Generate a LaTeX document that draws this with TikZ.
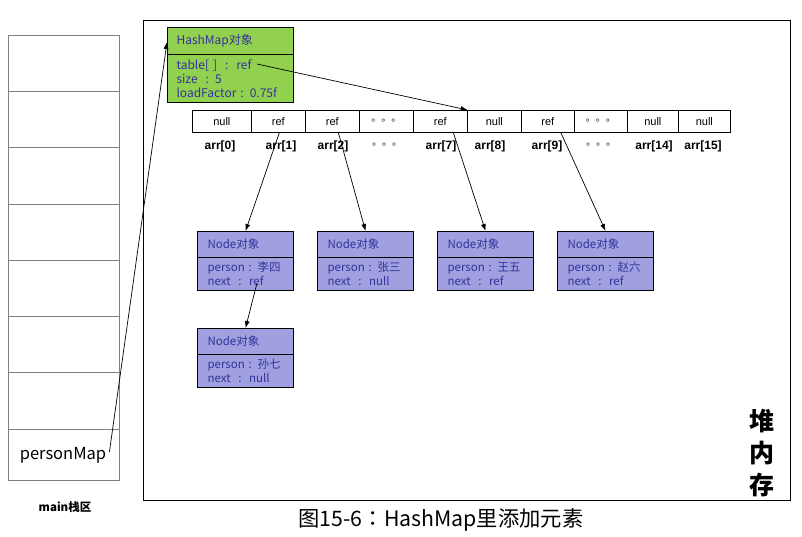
\documentclass[tikz,border=0pt]{standalone}
\usepackage{fontspec}
\setmainfont{Noto Sans CJK SC}
\newfontfamily\arialf{Liberation Sans}
\newfontfamily\tcfont{Noto Sans CJK TC}
\usetikzlibrary{arrows.meta}
\definecolor{hmgreen}{RGB}{146,208,80}
\definecolor{nodefill}{RGB}{160,160,224}
\definecolor{txtblue}{RGB}{51,51,153}
\definecolor{stackgray}{RGB}{128,128,128}
\newcommand{\celldots}{\raisebox{3pt}{\normalfont\fontsize{10}{12}\selectfont 。。。}}
\tikzset{
  objhdr/.style={draw=black, line width=1.1pt, anchor=north west, inner xsep=10pt, inner ysep=0pt,
    text=txtblue, align=left, font=\fontsize{11.5}{14}\selectfont},
  nodehdr/.style={objhdr, fill=nodefill, minimum width=96pt, text width=76pt, minimum height=26pt},
  nodebody/.style={objhdr, fill=nodefill, minimum width=96pt, text width=76pt, minimum height=33pt},
  cell/.style={draw=black, line width=0.7pt, anchor=north west, minimum height=22pt, inner sep=0pt,
    font=\arialf\fontsize{11}{13}\selectfont},
  idx/.style={font=\arialf\bfseries\fontsize{12}{14}\selectfont, inner sep=0pt},
  ptr/.style={-{Latex[length=7pt,width=5pt]}, line width=0.7pt},
  stackcell/.style={draw=stackgray, line width=1.3pt, anchor=north west, minimum width=111pt, inner sep=0pt},
}
\begin{document}
\begin{tikzpicture}[x=1pt,y=-1pt]
\useasboundingbox (0,0) rectangle (802,536);
% stack
\foreach \i/\t/\h in {0/35/56,1/91/56,2/147/57,3/204/56,4/260/56,5/316/56,6/372/57}
  \node[stackcell, minimum height=\h pt] (s\i) at (8,\t) {};
\node[stackcell, minimum height=51pt] (s7) at (8,429) {};
\node[font=\fontsize{16.5}{18}\selectfont, inner sep=0pt] (pm) at (63,455) {personMap};
\node[font=\bfseries\fontsize{11.5}{14}\selectfont, inner sep=0pt] (mainlbl) at (65,507) {main栈区};
% heap
\node[draw=black, line width=0.9pt, anchor=north west, minimum width=647pt, minimum height=480pt, inner sep=0pt] (heap) at (143,20) {};
\node[font=\bfseries\fontsize{25}{32}\selectfont, align=center, inner sep=0pt] (heaplbl) at (762,453) {堆\\内\\存};
\node[font=\fontsize{21.3}{24}\selectfont, inner sep=0pt] (cap) at (441,520) {图15-6{\tcfont ：}HashMap里添加元素};
% HashMap object
\node[objhdr, fill=hmgreen, inner xsep=9pt, minimum width=126pt, text width=108pt, minimum height=27pt, font=\fontsize{12}{14}\selectfont] (hmh) at (167,27) {HashMap对象};
\node[objhdr, fill=hmgreen, inner xsep=9pt, minimum width=126pt, text width=108pt, minimum height=48pt, font=\fontsize{12}{14}\selectfont] (hmb) at (167,54) {table[ ]\ \ :\ \ ref\\size\ \ : 5\\loadFactor : 0.75f};
\coordinate (tref) at (257,64);
% array
\foreach \i/\l/\w/\t in {0/192/59/null,1/251/54/ref,2/305/54/ref,3/359/54/{\celldots},4/413/54/ref,5/467/54/null,6/521/53/ref,7/574/53/{\celldots},8/627/51/null,9/678/52/null}
  \node[cell, minimum width=\w pt] (c\i) at (\l,110) {\t};
\foreach \x/\t [count=\i from 0] in {220/arr[0],281/arr[1],333/arr[2],387/{\celldots},441/arr[7],490/arr[8],547/arr[9],601/{\celldots},654/arr[14],703/arr[15]}
  \node[idx] (a\i) at (\x,146) {\t};
% Node objects
\node[nodehdr] (n1h) at (197,231) {Node对象};
\node[nodebody] (n1b) at (197,257) {person : 李四\\next\ \ :\ \ ref};
\node[nodehdr] (n2h) at (317,231) {Node对象};
\node[nodebody] (n2b) at (317,257) {person : 张三\\next\ \ :\ \ null};
\node[nodehdr] (n3h) at (437,231) {Node对象};
\node[nodebody] (n3b) at (437,257) {person : 王五\\next\ \ :\ \ ref};
\node[nodehdr] (n4h) at (557,231) {Node对象};
\node[nodebody] (n4b) at (557,257) {person : 赵六\\next\ \ :\ \ ref};
\node[nodehdr] (n5h) at (197,328) {Node对象};
\node[nodebody] (n5b) at (197,354) {person : 孙七\\next\ \ :\ \ null};
\coordinate (nref) at (257,283);
% connectors
\draw[ptr] (tref) -- (c4.north east);
\draw[ptr] ([xshift=1pt]c1.south) -- (n1h.north);
\draw[ptr] ([xshift=6pt]c2.south) -- (n2h.north);
\draw[ptr] ([xshift=13pt]c4.south) -- (n3h.north);
\draw[ptr] ([xshift=13pt]c6.south) -- (n4h.north);
\draw[ptr] (nref) -- (n5h.north);
\draw[ptr] ([xshift=3pt,yshift=3pt]pm.east) -- ([yshift=-15pt]hmh.north west);
\end{tikzpicture}
\end{document}
